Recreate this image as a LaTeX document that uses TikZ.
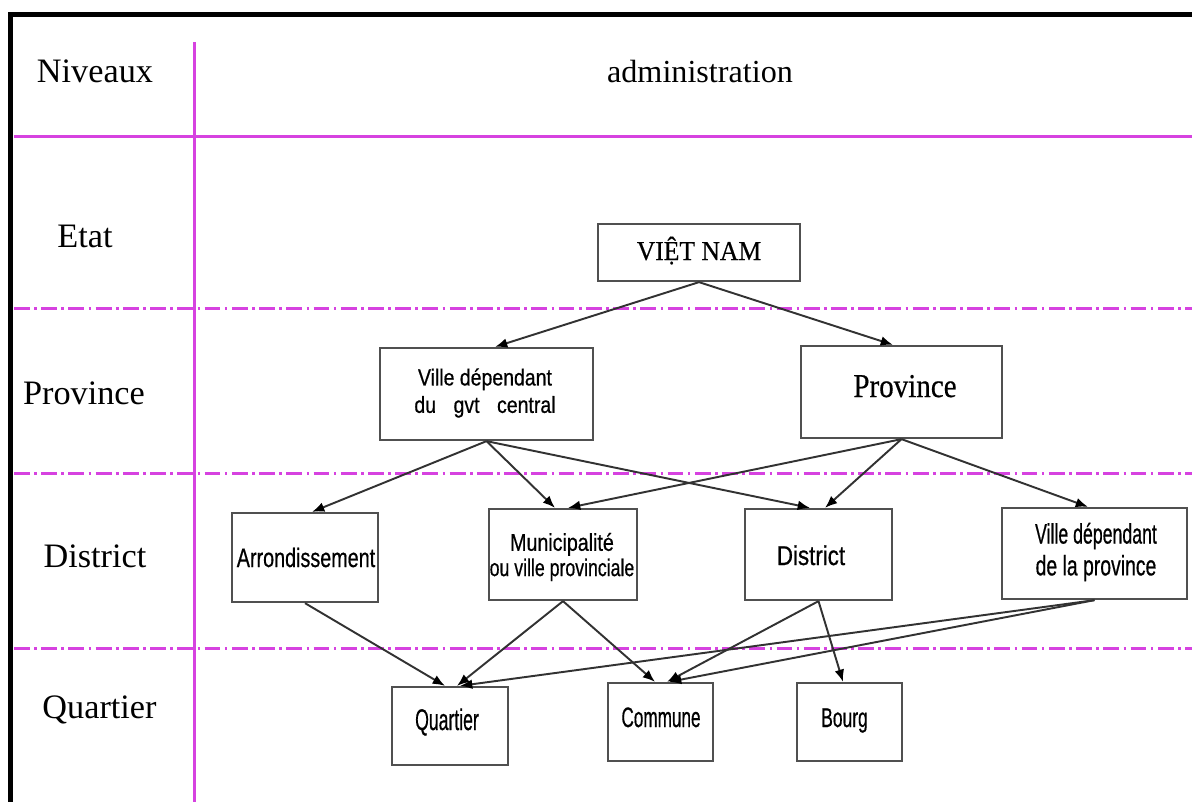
\documentclass[tikz,border=0pt]{standalone}
\usepackage{fontspec}
\usepackage{graphicx}
\setmainfont{Liberation Serif}
\newfontfamily\arialfont[FakeBold=0.7]{Liberation Sans}
\newfontfamily\boxserif[FakeBold=0.5]{Liberation Serif}
\usetikzlibrary{arrows.meta}
\definecolor{gridline}{RGB}{214,66,224}
\definecolor{boxline}{RGB}{80,80,80}
\definecolor{edgeline}{RGB}{50,50,50}
% horizontally narrowed text
\newcommand{\nx}[2]{\scalebox{#1}[1]{#2}}
\newcommand{\sz}[2]{\fontsize{#1}{#2}\selectfont}

\begin{document}
\begin{tikzpicture}[x=0.02cm,y=-0.02cm,
  levelrule/.style={draw=gridline,line width=1.2pt},
  levelsep/.style={draw=gridline,line width=1.2pt,dash pattern=on 9pt off 2.5pt on 1.5pt off 2.5pt},
  levelname/.style={anchor=base,inner sep=0pt,font=\sz{19.5}{23}},
  unit/.style={draw=boxline,line width=1.3pt,inner sep=0pt},
  unitname/.style={inner sep=0pt,align=center},
  link/.style={draw=edgeline,line width=1.1pt,-{Latex[length=7pt,width=5.5pt,color=black]}}]

\useasboundingbox (0,0) rectangle (1192,802);

% outer frame (top and left)
\draw[line width=2.45pt] (8.3,14.5) -- (1192,14.5);
\draw[line width=2.8pt] (10.8,12) -- (10.8,802);

% table rules
\draw[levelrule] (194.5,42) -- (194.5,802);
\draw[levelrule] (14,136.5) -- (1192,136.5);
\draw[levelsep] (14,308.5) -- (1192,308.5);
\draw[levelsep] (14,473.5) -- (1192,473.5);
\draw[levelsep] (14,648.5) -- (1192,648.5);

% level names
\node[levelname] (hLev) at (95,82) {Niveaux};
\node[levelname,font=\sz{18.3}{22}] (hAdm) at (700,82) {administration};
\node[levelname] (lEtat) at (85,247) {Etat};
\node[levelname] (lProv) at (84,404) {Province};
\node[levelname] (lDist) at (95,567) {District};
\node[levelname] (lQuar) at (99.5,718) {Quartier};

% administrative units
\node[unit,minimum width=4.04cm,minimum height=1.14cm] (vn) at (699,252.5) {};
\node[unit,minimum width=4.26cm,minimum height=1.84cm] (vdc) at (486.5,394) {};
\node[unit,minimum width=4.02cm,minimum height=1.84cm] (prov) at (901.5,392) {};
\node[unit,minimum width=2.92cm,minimum height=1.78cm] (arr) at (305,557.5) {};
\node[unit,minimum width=2.96cm,minimum height=1.82cm] (mun) at (563,554.5) {};
\node[unit,minimum width=2.94cm,minimum height=1.82cm] (dis) at (818.5,554.5) {};
\node[unit,minimum width=3.70cm,minimum height=1.82cm] (vdp) at (1094.5,553.5) {};
\node[unit,minimum width=2.32cm,minimum height=1.56cm] (qua) at (450,726) {};
\node[unit,minimum width=2.10cm,minimum height=1.56cm] (com) at (660.5,722) {};
\node[unit,minimum width=2.10cm,minimum height=1.56cm] (bou) at (849.5,722) {};

% unit names
\node[unitname,anchor=base,font=\boxserif\sz{15.5}{18}] (vnT) at (699,260) {\nx{0.94}{VIỆT NAM}};
\node[unitname,font=\arialfont\sz{13.2}{15.6}] (vdcT) at (485,393) {\nx{0.84}{Ville dépendant}\\\nx{0.84}{du\hspace{0.9em}gvt\hspace{0.9em}central}};
\node[unitname,anchor=base,font=\boxserif\sz{19}{22}] (provT) at (905,397) {\nx{0.87}{Province}};
\node[unitname,anchor=base,font=\arialfont\sz{15.2}{17}] (arrT) at (306,567) {\nx{0.74}{Arrondissement}};
\node[unitname,font=\arialfont\sz{13.8}{14.4}] (munT) at (562,557) {\nx{0.81}{Municipalité}\\\nx{0.73}{ou ville provinciale}};
\node[unitname,anchor=base,font=\arialfont\sz{15.5}{17}] (disT) at (811,565) {\nx{0.82}{District}};
\node[unitname,font=\arialfont\sz{16}{18.1}] (vdpT) at (1096,552) {\nx{0.63}{Ville dépendant}\\\nx{0.69}{de la province}};
\node[unitname,anchor=base,font=\arialfont\sz{17}{18}] (quaT) at (447,730) {\nx{0.59}{Quartier}};
\node[unitname,anchor=base,font=\arialfont\sz{16}{17}] (comT) at (661,727) {\nx{0.61}{Commune}};
\node[unitname,anchor=base,font=\arialfont\sz{15.5}{17}] (bouT) at (844.5,727) {\nx{0.64}{Bourg}};

% hierarchy links
\draw[link] (vn.south) -- ([xshift=0.17cm]vdc.north);
\draw[link] (vn.south) -- ([xshift=-0.17cm]prov.north);
\draw[link] (vdc.south) -- ([xshift=0.14cm]arr.north);
\draw[link] (vdc.south) -- ([xshift=-0.16cm]mun.north);
\draw[link] (vdc.south) -- ([xshift=-0.17cm]dis.north);
\draw[link] (prov.south) -- ([xshift=0.10cm]mun.north);
\draw[link] (prov.south) -- ([xshift=0.13cm]dis.north);
\draw[link] (prov.south) -- ([xshift=-0.13cm]vdp.north);
\draw[link] (arr.south) -- ([xshift=-0.10cm]qua.north);
\draw[link] (mun.south) -- ([xshift=0.14cm]qua.north);
\draw[link] (mun.south) -- ([xshift=-0.11cm]com.north);
\draw[link] (dis.south) -- ([xshift=0.13cm]com.north);
\draw[link] (dis.south) -- ([xshift=-0.13cm]bou.north);
\draw[link] (vdp.south) -- ([xshift=0.20cm]qua.north);
\draw[link] (vdp.south) -- ([xshift=0.17cm]com.north);
\end{tikzpicture}
\end{document}
